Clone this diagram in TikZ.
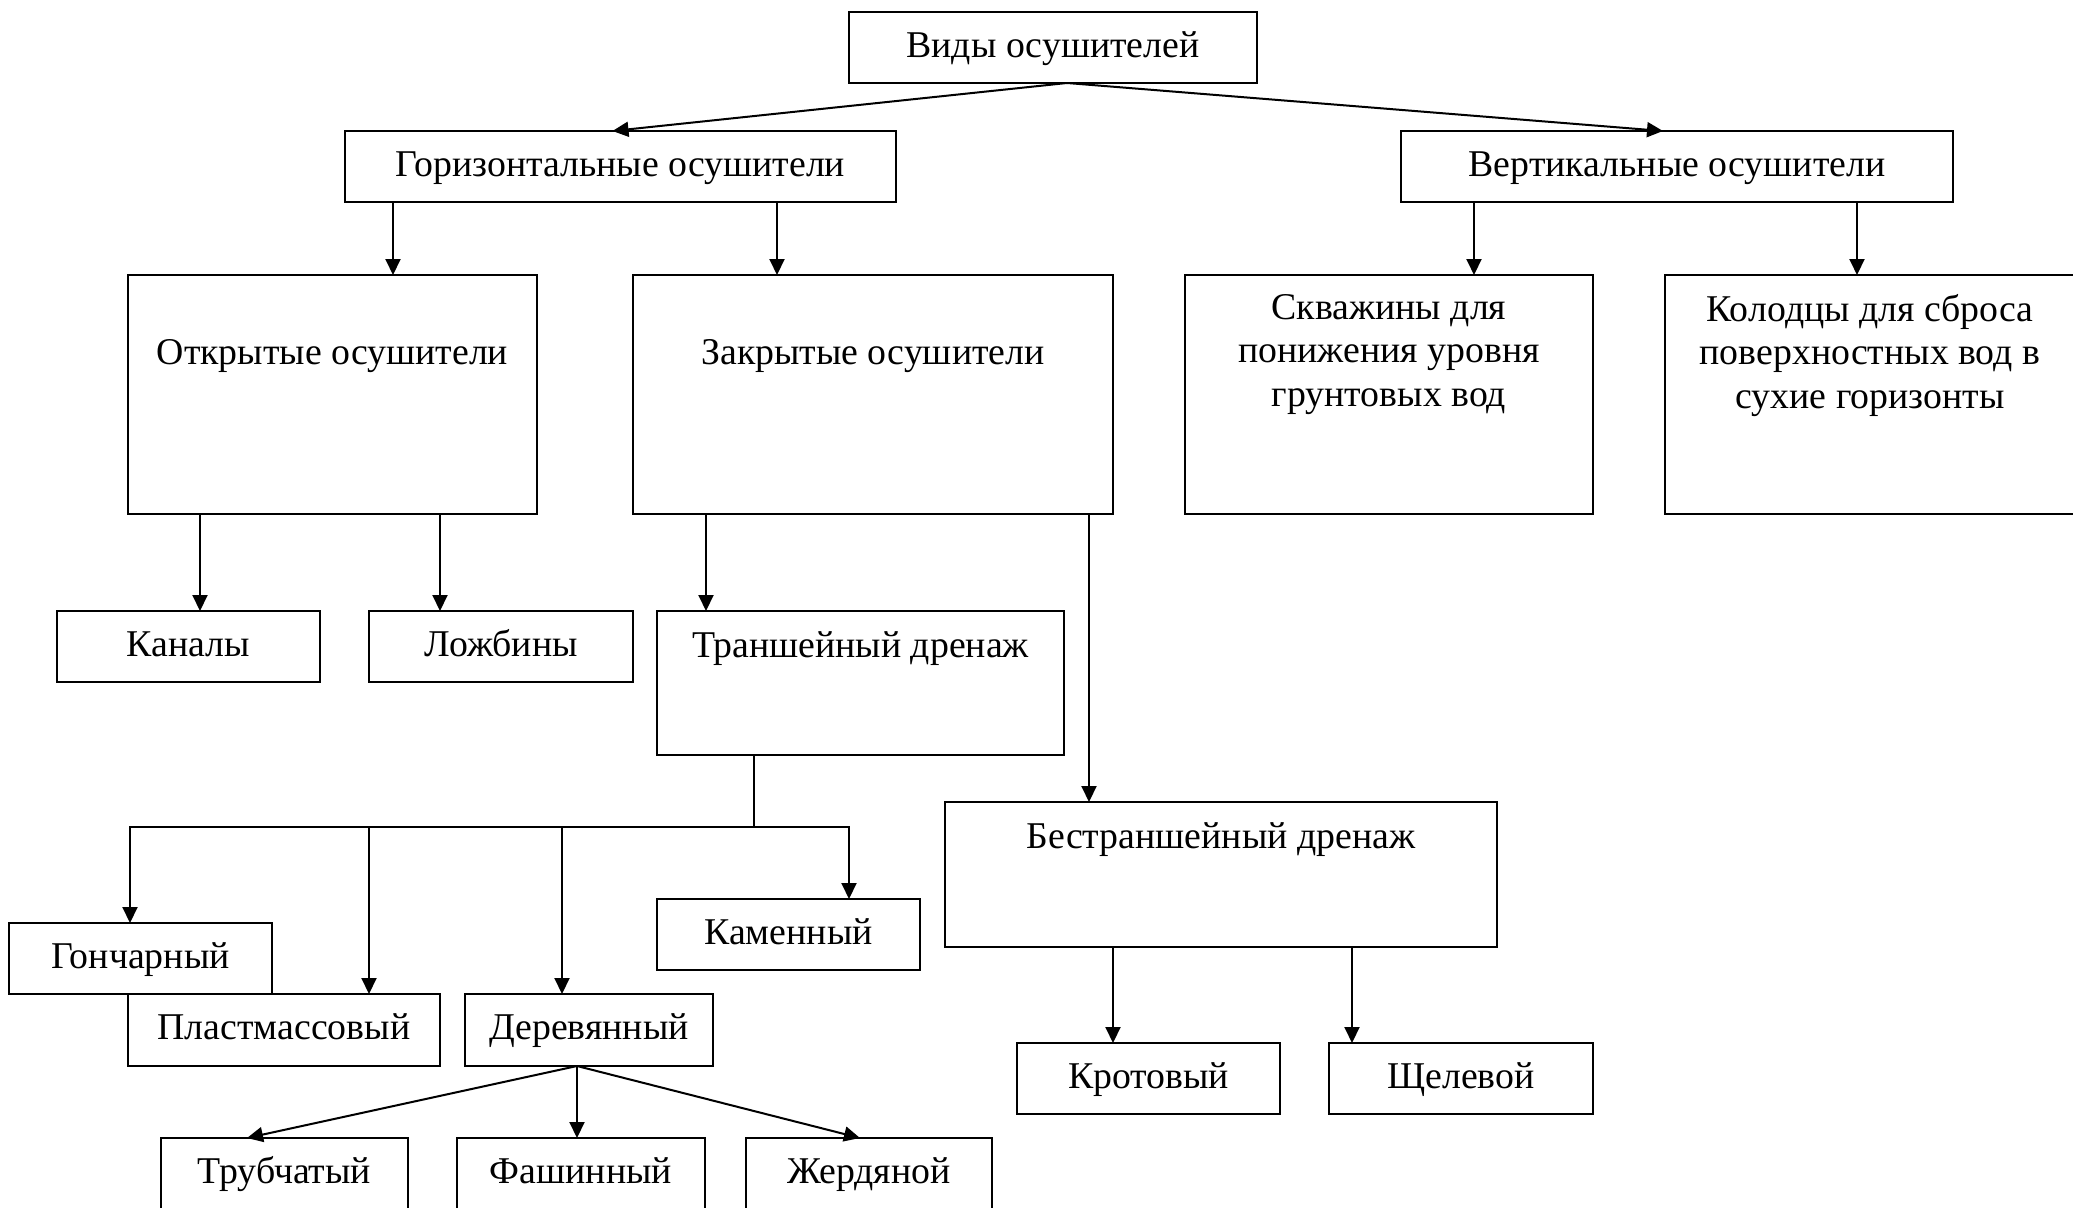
\documentclass[tikz,border=0pt]{standalone}
\usepackage{fontspec}
\setmainfont{Liberation Serif}
\usetikzlibrary{arrows.meta}
\tikzset{
  boxst/.style={draw, line width=2pt, inner sep=0pt, outer sep=0pt},
  txt/.style={inner sep=0pt, align=center, font=\fontsize{37.8}{43.4}\selectfont},
  arr/.style={line width=2pt, -{Triangle[length=16pt,width=15pt]}},
  ln/.style={line width=2pt},
}
% single-line box: name, x1, y1, x2, y2, text
\newcommand\myboxs[6]{%
  \node[boxst, minimum width={#4pt-#2pt}, minimum height={#5pt-#3pt}] (#1) at ({(#2+#4)/2},{(#3+#5)/2}) {};
  \node[txt, anchor=base] (#1t) at ({(#2+#4)/2},{(#3+#5)/2+9.5}) {#6};}
% tall box: name, x1, y1, x2, y2, baseline, text
\newcommand\myboxt[7]{%
  \node[boxst, minimum width={#4pt-#2pt}, minimum height={#5pt-#3pt}] (#1) at ({(#2+#4)/2},{(#3+#5)/2}) {};
  \node[txt, anchor=base] (#1t) at ({(#2+#4)/2},#6) {#7};}
% multi-line box: name, x1, y1, x2, y2, top of text, text
\newcommand\myboxm[7]{%
  \node[boxst, minimum width={#4pt-#2pt}, minimum height={#5pt-#3pt}] (#1) at ({(#2+#4)/2},{(#3+#5)/2}) {};
  \node[txt, anchor=north] (#1t) at ({(#2+#4)/2},#6) {#7};}
\begin{document}
\begin{tikzpicture}[x=1pt,y=-1pt]
\useasboundingbox (0,0) rectangle (2073,1210);
\clip (0,0) rectangle (2073,1210);

\myboxs{top}{849}{12}{1257}{83}{Виды осушителей}
\myboxs{hor}{345}{131}{896}{202}{Горизонтальные осушители}
\myboxs{ver}{1401}{131}{1953}{202}{Вертикальные осушители}
\myboxt{open}{128}{275}{537}{514}{364}{Открытые осушители}
\myboxt{closed}{633}{275}{1113}{514}{364}{Закрытые осушители}
\myboxm{skv}{1185}{275}{1593}{514}{294}{Скважины для\\понижения уровня\\грунтовых вод}
\myboxm{kol}{1665}{275}{2075}{514}{294}{Колодцы для сброса\\поверхностных вод в\\сухие горизонты}
\myboxs{kan}{57}{611}{320}{682}{Каналы}
\myboxs{lozh}{369}{611}{633}{682}{Ложбины}
\myboxt{trans}{657}{611}{1064}{755}{657}{Траншейный дренаж}
\myboxt{bestr}{945}{802}{1497}{947}{848}{Бестраншейный дренаж}
\myboxs{gonch}{9}{923}{272}{994}{Гончарный}
\myboxs{plast}{128}{994}{440}{1066}{Пластмассовый}
\myboxs{der}{465}{994}{713}{1066}{Деревянный}
\myboxs{kam}{657}{899}{920}{970}{Каменный}
\myboxs{krot}{1017}{1043}{1280}{1114}{Кротовый}
\myboxs{shch}{1329}{1043}{1593}{1114}{Щелевой}
\myboxs{trub}{161}{1138}{408}{1209}{Трубчатый}
\myboxs{fash}{457}{1138}{705}{1209}{Фашинный}
\myboxs{zherd}{746}{1138}{992}{1209}{Жердяной}
% cover bottom edges of last row (cut off in the reference)
\fill[white] (150,1208) rectangle (1000,1215);

% level 1
\draw[arr] ([xshift=14pt]top.south) -- ([xshift=-8pt]hor.north);
\draw[arr] ([xshift=14pt]top.south) -- ([xshift=-14pt]ver.north);
% level 2
\draw[arr] ([xshift=48pt]hor.south west) -- ([xshift=48pt]hor.south west |- open.north);
\draw[arr] ([xshift=432pt]hor.south west) -- ([xshift=432pt]hor.south west |- closed.north);
\draw[arr] ([xshift=73pt]ver.south west) -- ([xshift=73pt]ver.south west |- skv.north);
\draw[arr] ([xshift=456pt]ver.south west) -- ([xshift=456pt]ver.south west |- kol.north);
% level 3
\draw[arr] ([xshift=72pt]open.south west) -- ([xshift=72pt]open.south west |- kan.north);
\draw[arr] ([xshift=312pt]open.south west) -- ([xshift=312pt]open.south west |- lozh.north);
\draw[arr] ([xshift=73pt]closed.south west) -- ([xshift=73pt]closed.south west |- trans.north);
\draw[arr] ([xshift=456pt]closed.south west) -- ([xshift=456pt]closed.south west |- bestr.north);
% trench branches
\coordinate (j) at ([xshift=97pt,yshift=-72pt]trans.south west);
\draw[ln] ([xshift=97pt]trans.south west) -- (j);
\draw[arr] (j) -| ([xshift=121pt]gonch.north west);
\draw[arr] (j) -| ([xshift=192pt]kam.north west);
\draw[arr] ([xshift=241pt]plast.north west |- j) -- ([xshift=241pt]plast.north west);
\draw[arr] ([xshift=97pt]der.north west |- j) -- ([xshift=97pt]der.north west);
% trenchless branches
\draw[arr] ([xshift=168pt]bestr.south west) -- ([xshift=168pt]bestr.south west |- krot.north);
\draw[arr] ([xshift=407pt]bestr.south west) -- ([xshift=407pt]bestr.south west |- shch.north);
% wooden branches
\draw[arr] ([xshift=112pt]der.south west) -- ([xshift=86pt]trub.north west);
\draw[arr] ([xshift=112pt]der.south west) -- ([xshift=120pt]fash.north west);
\draw[arr] ([xshift=112pt]der.south west) -- ([xshift=114pt]zherd.north west);
\end{tikzpicture}
\end{document}
